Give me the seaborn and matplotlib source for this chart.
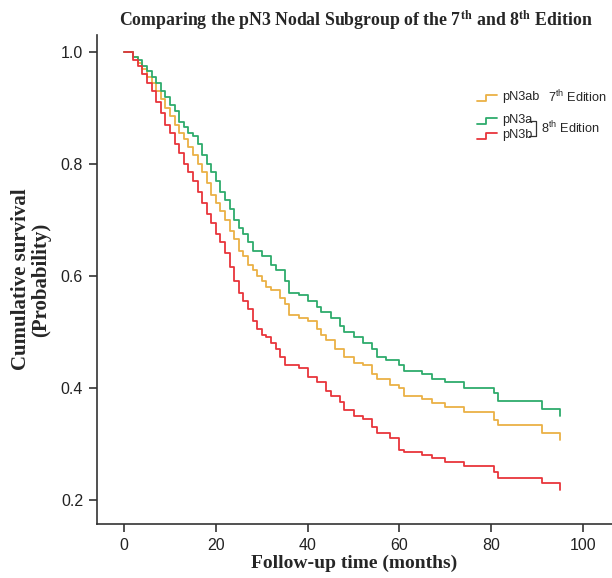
"""
Kaplan-Meier style comparison of pN3 nodal subgroups (7th vs 8th edition).
Output: out.png
"""

import matplotlib.pyplot as plt
import numpy as np
import pandas as pd
import seaborn as sns
from matplotlib.lines import Line2D

# step curves: time (months) and survival after each step
time_n3a = [0, 2, 3, 4, 5, 6, 7, 8, 9, 10, 11, 12, 13, 14, 15, 16, 17, 18, 19,
            20, 21, 22, 23, 24, 25, 26, 27, 28, 30, 32, 33, 35, 36, 38, 40, 42,
            43, 45, 47, 48, 50, 52, 54, 55, 57, 60, 61, 65, 67, 70, 74, 80.5,
            81.5, 91, 95]
surv_n3a = [1.0, 0.99, 0.985, 0.975, 0.965, 0.955, 0.945, 0.93, 0.92, 0.905,
            0.895, 0.875, 0.865, 0.855, 0.85, 0.835, 0.815, 0.80, 0.785, 0.77,
            0.75, 0.735, 0.72, 0.70, 0.685, 0.675, 0.66, 0.645, 0.635, 0.62,
            0.61, 0.59, 0.57, 0.565, 0.555, 0.545, 0.535, 0.525, 0.51, 0.50,
            0.49, 0.48, 0.47, 0.455, 0.45, 0.44, 0.43, 0.425, 0.415, 0.41,
            0.40, 0.39, 0.377, 0.362, 0.35]

time_n3ab = [0, 2, 3, 4, 5, 6, 7, 8, 9, 10, 11, 12, 13, 14, 15, 16, 17, 18, 19,
             20, 21, 22, 23, 24, 25, 26, 27, 28, 29, 30, 31, 32, 34, 35, 36, 38,
             40, 42, 43, 44, 46, 48, 50, 52, 54, 55, 58, 60, 61, 65, 67, 70, 74,
             80.5, 81.5, 91, 95]
surv_n3ab = [1.0, 0.99, 0.98, 0.97, 0.955, 0.945, 0.93, 0.915, 0.90, 0.885,
             0.87, 0.855, 0.845, 0.83, 0.815, 0.80, 0.785, 0.765, 0.745, 0.73,
             0.715, 0.70, 0.68, 0.665, 0.645, 0.635, 0.62, 0.61, 0.60, 0.59,
             0.58, 0.575, 0.56, 0.55, 0.53, 0.525, 0.52, 0.505, 0.495, 0.485,
             0.47, 0.455, 0.445, 0.44, 0.425, 0.415, 0.405, 0.40, 0.385, 0.38,
             0.373, 0.365, 0.357, 0.343, 0.334, 0.32, 0.307]

time_n3b = [0, 2, 3, 4, 5, 6, 7, 8, 9, 10, 11, 12, 13, 14, 15, 16, 17, 18, 19,
            20, 21, 22, 23, 24, 25, 26, 27, 28, 29, 30, 31, 32, 33, 34, 35, 38,
            40, 42, 44, 45, 47, 48, 50, 52, 54, 55, 58, 60, 61, 65, 67, 70, 74,
            80.5, 81.5, 91, 95]
surv_n3b = [1.0, 0.985, 0.975, 0.96, 0.945, 0.93, 0.91, 0.89, 0.87, 0.855,
            0.835, 0.82, 0.80, 0.785, 0.77, 0.75, 0.73, 0.71, 0.695, 0.675,
            0.66, 0.64, 0.615, 0.59, 0.57, 0.555, 0.54, 0.52, 0.505, 0.495,
            0.49, 0.48, 0.47, 0.455, 0.44, 0.435, 0.42, 0.41, 0.395, 0.385,
            0.375, 0.36, 0.35, 0.345, 0.33, 0.32, 0.31, 0.29, 0.285, 0.28,
            0.275, 0.268, 0.26, 0.25, 0.24, 0.23, 0.218]

groups = ["pN3ab", "pN3a", "pN3b"]
colors = {"pN3ab": "#EBB145", "pN3a": "#2EAB6C", "pN3b": "#E8353B"}

x_ticks = [0, 20, 40, 60, 80, 100]
y_ticks = [0.2, 0.4, 0.6, 0.8, 1.0]


def build_frame():
    """Stack the three curves into one long-form table."""
    parts = []
    for name, t, s in [("pN3ab", time_n3ab, surv_n3ab),
                       ("pN3a", time_n3a, surv_n3a),
                       ("pN3b", time_n3b, surv_n3b)]:
        parts.append(pd.DataFrame({"time": t, "surv": s, "group": name}))
    return pd.concat(parts, ignore_index=True)


def main():
    sns.set_style("ticks")
    plt.rcParams["font.family"] = ["Liberation Sans", "DejaVu Sans"]
    plt.rcParams["mathtext.fontset"] = "custom"
    plt.rcParams["mathtext.rm"] = "Liberation Sans"

    df = build_frame()

    fig = plt.figure(figsize=(6.12, 5.78), dpi=100)
    ax = fig.add_axes([97 / 612, 54 / 578, 515 / 612, 489 / 578])

    sns.lineplot(
        data=df, x="time", y="surv", hue="group", hue_order=groups,
        palette=colors, drawstyle="steps-post", linewidth=1.3,
        estimator=None, sort=False, legend=False, ax=ax,
    )

    ax.set_xlim(-5.9, 106.3)
    ax.set_ylim(0.157, 1.03)
    ax.set_xticks(x_ticks)
    ax.set_yticks(y_ticks)
    ax.set_yticklabels([f"{v:.1f}" for v in y_ticks])
    ax.tick_params(labelsize=11.5, length=6, width=1.2, color="#333333",
                   labelcolor="#222222", direction="out", pad=4)
    sns.despine(ax=ax, top=True, right=True)
    for side in ["left", "bottom"]:
        ax.spines[side].set_linewidth(1.2)
        ax.spines[side].set_color("#333333")

    serif = {"family": ["Liberation Serif", "DejaVu Serif"], "weight": "bold"}
    ax.set_xlabel("Follow-up time (months)", fontsize=14, labelpad=1,
                  **serif)
    ax.set_ylabel("Cumulative survival\n(Probability)", fontsize=15,
                  labelpad=7, linespacing=1.0, **serif)

    fig.text(0.582, 0.965,
             r"Comparing the pN3 Nodal Subgroup of the 7$^{\mathbf{th}}$ "
             r"and 8$^{\mathbf{th}}$ Edition",
             ha="center", va="center", fontsize=12.8,
             math_fontfamily="stix", **serif)

    # hand-made legend with little step icons
    def step_icon(x0, y0, color):
        xs = np.array([0, 9, 9, 20]) + x0
        ys = np.array([0, 0, -6, -6]) + y0
        fig.add_artist(Line2D(xs / 612, 1 - ys / 578, color=color, lw=1.3,
                              transform=fig.transFigure))

    step_icon(477, 101, colors["pN3ab"])
    step_icon(477, 124, colors["pN3a"])
    step_icon(477, 139, colors["pN3b"])

    leg_font = 9.2
    fig.text(502 / 612, 1 - 97 / 578, "pN3ab", fontsize=leg_font, va="center")
    fig.text(548 / 612, 1 - 97 / 578, r"7$^{\rm th}$ Edition",
             fontsize=leg_font, va="center")
    fig.text(502 / 612, 1 - 120 / 578, "pN3a", fontsize=leg_font, va="center")
    fig.text(502 / 612, 1 - 135 / 578, "pN3b", fontsize=leg_font, va="center")
    bx = np.array([529, 536, 536, 529])
    by = np.array([121, 121, 136, 136])
    fig.add_artist(Line2D(bx / 612, 1 - by / 578, color="#333333", lw=0.9,
                          transform=fig.transFigure))
    fig.text(541 / 612, 1 - 128 / 578, r"8$^{\rm th}$ Edition",
             fontsize=leg_font, va="center")

    fig.savefig("out.png", dpi=100)
    plt.close(fig)


if __name__ == "__main__":
    main()
